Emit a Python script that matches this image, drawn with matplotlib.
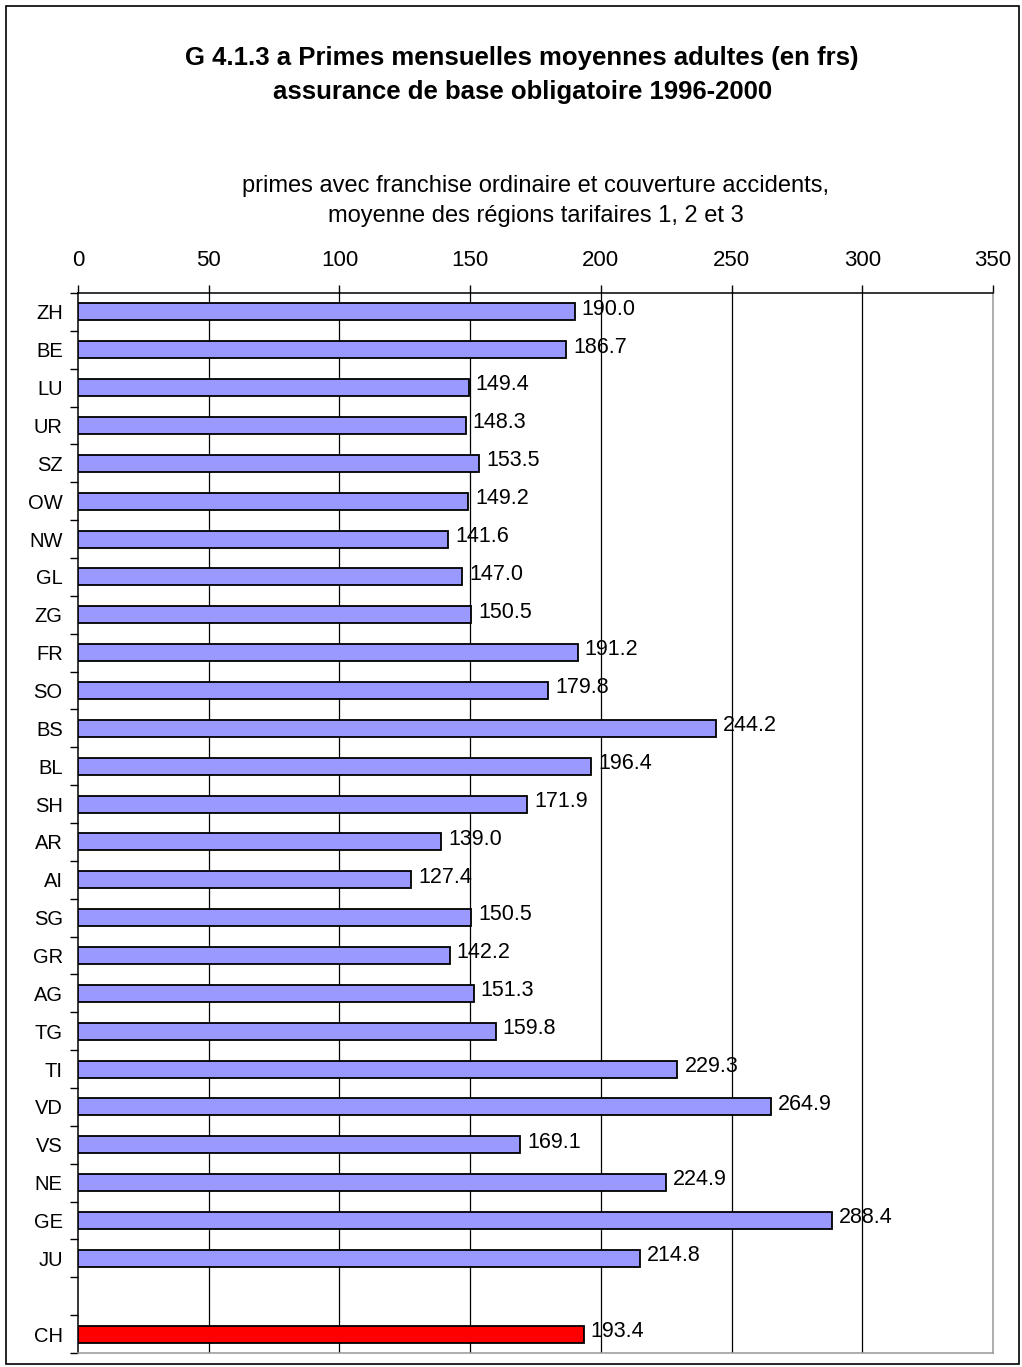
import numpy as np
import matplotlib.pyplot as plt
from matplotlib.patches import Rectangle

plt.rcParams['font.family'] = ['Liberation Sans', 'DejaVu Sans']

# ---- data ----
cantons = ['ZH', 'BE', 'LU', 'UR', 'SZ', 'OW', 'NW', 'GL', 'ZG', 'FR', 'SO', 'BS', 'BL',
           'SH', 'AR', 'AI', 'SG', 'GR', 'AG', 'TG', 'TI', 'VD', 'VS', 'NE', 'GE', 'JU']
primes = [190.0, 186.7, 149.4, 148.3, 153.5, 149.2, 141.6, 147.0, 150.5, 191.2, 179.8, 244.2,
          196.4, 171.9, 139.0, 127.4, 150.5, 142.2, 151.3, 159.8, 229.3, 264.9, 169.1, 224.9,
          288.4, 214.8]
total_label = 'CH'
total_value = 193.4
x_ticks = [0, 50, 100, 150, 200, 250, 300, 350]

title = 'G 4.1.3 a Primes mensuelles moyennes adultes (en frs)\nassurance de base obligatoire 1996-2000'
subtitle = 'primes avec franchise ordinaire et couverture accidents,\nmoyenne des régions tarifaires 1, 2 et 3'

# ---- figure ----
W, H = 1022, 1367
fig = plt.figure(figsize=(W / 100, H / 100), dpi=100)
fig.patches.append(Rectangle((6 / W, 3 / H), 1013 / W, 1358 / H, transform=fig.transFigure,
                             fill=False, edgecolor='black', linewidth=1.2))

ax = fig.add_axes([78 / W, 1 - 1353 / H, 915 / W, 1060 / H])

# positions: cantons, empty slot, CH
pos = np.arange(len(cantons))
ch_pos = len(cantons) + 1
bar_h = 0.45

ax.barh(pos, primes, height=bar_h, color='#9999FF', edgecolor='black', linewidth=1.3, zorder=3)
ax.barh([ch_pos], [total_value], height=bar_h, color='#FF0000', edgecolor='black',
        linewidth=1.3, zorder=3)

for p, v in zip(list(pos) + [ch_pos], primes + [total_value]):
    ax.annotate(f'{v:.1f}', (v, p), xytext=(5, 2), textcoords='offset points',
                va='center', ha='left', fontsize=15.5, zorder=4)

ax.set_xlim(0, 350)
ax.set_ylim(ch_pos + 0.5, -0.5)

ax.xaxis.tick_top()
ax.set_xticks(x_ticks)
ax.set_xticklabels([str(t) for t in x_ticks], fontsize=16)
ax.tick_params(axis='x', direction='out', length=6, width=1, pad=10)

ax.set_yticks(list(pos) + [ch_pos])
ax.set_yticklabels(cantons + [total_label], fontsize=14.5)
ax.tick_params(axis='y', length=0, pad=11)
ax.set_yticks(np.arange(-0.5, ch_pos + 1, 1), minor=True)
ax.tick_params(axis='y', which='minor', length=6, width=1)

for t in x_ticks[1:-1]:
    ax.axvline(t, color='black', linewidth=0.9, zorder=1)

ax.spines['left'].set_color('black')
ax.spines['top'].set_color('black')
ax.spines['right'].set_color('#999999')
ax.spines['bottom'].set_color('#999999')
for s in ax.spines.values():
    s.set_linewidth(1.1)

fig.text(0.511, 1 - 75 / H, title, ha='center', va='center', fontsize=18.5,
         fontweight='bold', linespacing=1.55)
fig.text(0.524, 1 - 201 / H, subtitle, ha='center', va='center', fontsize=17,
         linespacing=1.45)

fig.savefig('out.png', dpi=100)
